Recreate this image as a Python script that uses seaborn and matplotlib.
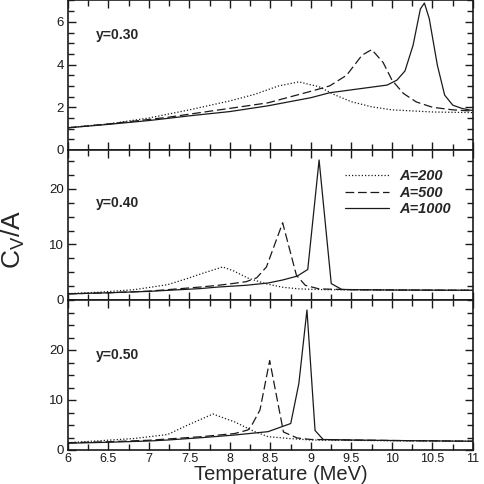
import matplotlib
matplotlib.use("Agg")
import matplotlib.pyplot as plt
import seaborn as sns
import pandas as pd
from matplotlib.ticker import MultipleLocator, FixedLocator

# y = 0.30 panel
T_30_200 = [6.0, 6.5, 7.0, 7.5, 8.0, 8.3, 8.6, 8.85, 9.1, 9.3, 9.5, 9.75, 10.0, 10.5, 11.0]
C_30_200 = [1.05, 1.22, 1.5, 1.88, 2.3, 2.6, 3.0, 3.19, 2.96, 2.57, 2.26, 2.02, 1.88, 1.78, 1.75]
T_30_500 = [6.0, 6.5, 7.0, 7.23, 7.85, 8.0, 8.47, 9.02, 9.23, 9.44, 9.63, 9.75, 9.89, 10.0, 10.14, 10.3, 10.5, 10.75, 11.0]
C_30_500 = [1.04, 1.22, 1.43, 1.53, 1.87, 1.95, 2.21, 2.77, 3.0, 3.5, 4.44, 4.7, 4.1, 3.27, 2.65, 2.25, 2.0, 1.88, 1.82]
T_30_1000 = [6.0, 6.5, 7.0, 7.23, 7.5, 7.85, 8.0, 8.47, 9.0, 9.23, 9.94, 10.06, 10.16, 10.26, 10.35, 10.4, 10.46, 10.56, 10.65, 10.75, 10.86, 10.96, 11.0]
C_30_1000 = [1.04, 1.2, 1.38, 1.48, 1.6, 1.74, 1.8, 2.07, 2.45, 2.68, 3.04, 3.27, 3.7, 4.9, 6.6, 6.88, 6.15, 3.97, 2.57, 2.1, 1.95, 1.87, 1.85]

# y = 0.40 panel
T_40_200 = [6.0, 6.41, 6.82, 7.23, 7.47, 7.65, 7.91, 8.05, 8.22, 8.45, 8.65, 8.85, 9.2, 10.0, 11.0]
C_40_200 = [1.14, 1.43, 1.86, 2.76, 3.85, 4.75, 5.95, 5.2, 3.95, 2.9, 2.3, 2.0, 1.85, 1.8, 1.75]
T_40_500 = [6.0, 6.5, 7.0, 7.23, 7.63, 7.85, 8.0, 8.2, 8.33, 8.45, 8.65, 8.82, 8.93, 9.1, 9.5, 10.0, 11.0]
C_40_500 = [1.1, 1.3, 1.6, 1.86, 2.33, 2.64, 2.9, 3.3, 4.0, 5.95, 13.9, 4.45, 2.64, 2.0, 1.85, 1.8, 1.75]
T_40_1000 = [6.0, 6.5, 7.0, 7.23, 7.63, 7.85, 8.2, 8.47, 8.65, 8.83, 8.96, 9.1, 9.25, 9.38, 9.6, 10.0, 11.0]
C_40_1000 = [1.1, 1.3, 1.55, 1.74, 2.05, 2.33, 2.65, 3.06, 3.6, 4.3, 5.5, 25.2, 2.95, 1.9, 1.85, 1.8, 1.75]

# y = 0.50 panel
T_50_200 = [6.0, 6.41, 6.82, 7.23, 7.48, 7.79, 8.06, 8.3, 8.47, 8.73, 9.0, 10.0, 11.0]
C_50_200 = [1.47, 1.87, 2.3, 3.1, 5.0, 7.2, 5.6, 3.7, 2.67, 2.3, 2.0, 1.85, 1.75]
T_50_500 = [6.0, 6.5, 7.0, 7.23, 7.65, 8.06, 8.22, 8.27, 8.37, 8.49, 8.66, 8.83, 9.0, 10.0, 11.0]
C_50_500 = [1.45, 1.65, 1.95, 2.2, 2.67, 3.3, 4.0, 5.0, 8.0, 17.9, 3.6, 2.4, 2.1, 1.9, 1.75]
T_50_1000 = [6.0, 6.5, 7.0, 7.23, 7.65, 8.06, 8.47, 8.75, 8.85, 8.95, 9.05, 9.15, 9.5, 10.0, 11.0]
C_50_1000 = [1.35, 1.55, 1.8, 2.0, 2.47, 3.0, 3.67, 5.3, 13.3, 28.0, 3.9, 2.1, 2.0, 1.9, 1.75]

panel_labels = ["y=0.30", "y=0.40", "y=0.50"]
mass_labels = ["A=200", "A=500", "A=1000"]
y_limits = [7, 27, 30]

curves = {
    ("y=0.30", "A=200"): (T_30_200, C_30_200),
    ("y=0.30", "A=500"): (T_30_500, C_30_500),
    ("y=0.30", "A=1000"): (T_30_1000, C_30_1000),
    ("y=0.40", "A=200"): (T_40_200, C_40_200),
    ("y=0.40", "A=500"): (T_40_500, C_40_500),
    ("y=0.40", "A=1000"): (T_40_1000, C_40_1000),
    ("y=0.50", "A=200"): (T_50_200, C_50_200),
    ("y=0.50", "A=500"): (T_50_500, C_50_500),
    ("y=0.50", "A=1000"): (T_50_1000, C_50_1000),
}

rows = []
for (panel, mass), (ts, cs) in curves.items():
    for t, c in zip(ts, cs):
        rows.append({"panel": panel, "A": mass, "T": t, "C": c})
df = pd.DataFrame(rows)

sns.set_style("ticks")
plt.rcParams["font.family"] = ["Liberation Sans", "DejaVu Sans"]
plt.rcParams["mathtext.fontset"] = "custom"
plt.rcParams["mathtext.rm"] = "Liberation Sans"
plt.rcParams["mathtext.it"] = "Liberation Sans:italic"

fig = plt.figure(figsize=(4.84, 4.84), dpi=100)
left, width = 68 / 484, 405 / 484
h = 150 / 484
bottoms = [1 - 150 / 484, 1 - 300 / 484, 1 - 450 / 484]

dash_map = {"A=200": (1, 1.6), "A=500": (7, 3), "A=1000": ""}
text_y = [0.77, 0.65, 0.63]

for i, panel in enumerate(panel_labels):
    ax = fig.add_axes([left, bottoms[i], width, h - 0.001 if i == 0 else h])
    sub = df[df["panel"] == panel]
    sns.lineplot(data=sub, x="T", y="C", style="A", style_order=mass_labels,
                 dashes=dash_map, color="#1a1a1a", linewidth=0.9,
                 estimator=None, sort=False, ax=ax, legend=(i == 1))
    ax.set_xlim(6, 11)
    ax.set_ylim(0, y_limits[i])
    ax.xaxis.set_major_locator(MultipleLocator(0.5))
    ax.xaxis.set_minor_locator(MultipleLocator(0.25))
    if i == 0:
        ax.yaxis.set_major_locator(MultipleLocator(2))
        ax.yaxis.set_minor_locator(MultipleLocator(0.5))
    else:
        ax.yaxis.set_major_locator(FixedLocator([0, 10, 20]))
        ax.yaxis.set_minor_locator(MultipleLocator(2.5))
    ax.tick_params(which="both", direction="in", top=True, right=True,
                   width=1.0, labelsize=9.5, colors="#1a1a1a", pad=3)
    ax.tick_params(axis="x", labelsize=9, pad=2)
    ax.tick_params(which="major", length=6)
    ax.tick_params(which="minor", length=4)
    for s in ax.spines.values():
        s.set_linewidth(1.2)
        s.set_color("#1a1a1a")
    ax.set_xlabel("")
    ax.set_ylabel("")
    if i < 2:
        ax.tick_params(axis="x", labelbottom=False)
    else:
        ax.xaxis.set_major_formatter(plt.FuncFormatter(lambda v, p: f"{v:g}"))
    ax.text(0.07, text_y[i], panel, transform=ax.transAxes, fontsize=10,
            fontweight="bold", va="center", ha="left")
    if i == 1:
        handles, labels = ax.get_legend_handles_labels()
        leg = ax.legend(handles, labels, loc="upper left",
                        bbox_to_anchor=(0.684, 0.87), frameon=False,
                        borderpad=0, borderaxespad=0, handlelength=3.0,
                        handletextpad=0.7, labelspacing=0.15,
                        prop={"size": 10.5, "weight": "bold", "style": "italic"})
        for line in leg.get_lines():
            line.set_linewidth(0.9)

fig.text(281 / 484, 1 - 480 / 484, "Temperature (MeV)", fontsize=14.5,
         ha="center", va="baseline")
fig.text(0.027, 0.505, r"C$_{\rm V}$/A", fontsize=19, rotation=90,
         ha="center", va="center")

fig.savefig("out.png", dpi=100)
